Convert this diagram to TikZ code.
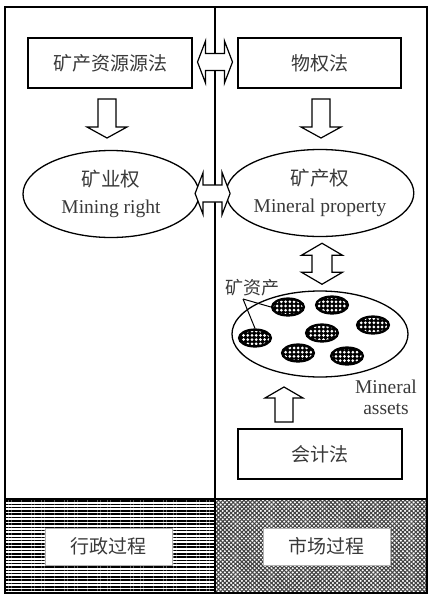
\documentclass[tikz,border=0pt]{standalone}
\usepackage{fontspec}
\setmainfont{Liberation Serif}
\newfontfamily\cjk{Noto Sans CJK SC}
\usetikzlibrary{shapes.geometric,calc,patterns.meta}
\definecolor{txt}{HTML}{3A3A3A}
\begin{document}
\begin{tikzpicture}[x=1pt,y=-1pt,
  frame/.style={line width=1.3pt},
  lawbox/.style={draw, line width=1.3pt, fill=white, minimum width=164pt, minimum height=50pt, inner sep=0pt, text=txt, font=\cjk\fontsize{19}{22}\selectfont},
  oval/.style={ellipse, draw, line width=1.3pt, fill=white, minimum width=176pt, minimum height=87pt, inner sep=0pt, text=txt, align=center, font=\fontsize{19.5}{27}\selectfont},
  mini/.style={ellipse, draw, line width=1.2pt, minimum width=33pt, minimum height=18pt, inner sep=0pt, fill=black},
  procbox/.style={draw=gray!60, line width=0.8pt, fill=white, minimum width=127pt, minimum height=37pt, inner sep=0pt, text=txt, font=\cjk\fontsize{19}{22}\selectfont},
  blockarrow/.style={draw, line width=1.2pt, fill=white, line join=miter},
  lbl/.style={text=txt, inner sep=0pt}
]
\useasboundingbox (0,0) rectangle (430,600);
% bottom bands
\fill[pattern={Lines[angle=0,distance=3.3pt,line width=1.5pt]}] (5,499) rectangle (215,593);
\fill[pattern={Lines[angle=45,distance=3pt,line width=1.1pt]}, pattern color=black!75] (215,499) rectangle (427,593);
\fill[pattern={Lines[angle=-45,distance=3pt,line width=1.1pt]}, pattern color=black!75] (215,499) rectangle (427,593);
\draw[frame] (5,499) -- (427,499);
% frame and divider
\draw[frame] (5,7) rectangle (427,593);
\draw[frame] (215,7) -- (215,593);

% law boxes
\node[lawbox] (kc) at (110,63) {矿产资源源法};
\node[lawbox, minimum width=163pt] (wq) at (319.5,63) {物权法};
% ellipses
\node[oval] (ky) at (111,194) {{\cjk 矿业权}\\Mining right};
\node[oval] (kq) at (320,193) {{\cjk 矿产权}\\Mineral property};
\node[oval, minimum height=86pt] (zc) at (320,334) {};
% small ellipses
\foreach \n/\p in {s1/{(288,307)}, s2/{(332,305)}, s3/{(373,325)}, s4/{(255,338)}, s5/{(322,333)}, s6/{(298,353)}, s7/{(347,356)}}{
  \node[mini] (\n) at \p {};
  \fill[pattern={Dots[distance=4.2pt,radius=1.5pt]}, pattern color=white] (\n.center) ellipse [x radius=14.5pt, y radius=7pt];
}
\node[lbl, font=\cjk\fontsize{18}{20}\selectfont] (zl) at (252,288) {矿资产};
\coordinate (zj) at (243,299);
\draw[line width=1pt] (zj) -- (s1.west);
\draw[line width=1pt] (zj) -- (s4.north);
\node[lbl, align=center, font=\fontsize{19.5}{21}\selectfont] (ma) at (386,397) {Mineral\\assets};
% accounting box
\node[lawbox] (kj) at (320,454) {会计法};
% process boxes
\node[procbox] (xz) at (108.5,546.5) {行政过程};
\node[procbox] (sc) at (326.5,546.5) {市场过程};

% horizontal double arrows
\coordinate (h1) at ($(kc.east)!0.5!(wq.west)+(0,-1)$);
\coordinate (h2) at ($(ky.east)!0.5!(kq.west)$);
\foreach \c in {h1,h2}{
  \draw[blockarrow, shift={(\c)}] (-17.5,0) -- (-9.5,-21) -- (-9.5,-8.5) -- (9.5,-8.5) -- (9.5,-21) -- (17.5,0) -- (9.5,21) -- (9.5,8.5) -- (-9.5,8.5) -- (-9.5,21) -- cycle;
}
% down arrows
\coordinate (d1) at (107,99);
\coordinate (d2) at (321,99);
\foreach \c in {d1,d2}{
  \draw[blockarrow, shift={(\c)}] (-9,0) -- (9,0) -- (9,28) -- (20,28) -- (0,39) -- (-20,28) -- (-9,28) -- cycle;
}
% vertical double arrow
\coordinate (v1) at ($(kq.south)!0.5!(zc.north)+(2,0)$);
\draw[blockarrow, shift={(v1)}] (0,-20.5) -- (20.5,-8.5) -- (10,-8.5) -- (10,8.5) -- (20.5,8.5) -- (0,20.5) -- (-20.5,8.5) -- (-10,8.5) -- (-10,-8.5) -- (-20.5,-8.5) -- cycle;
% up arrow
\coordinate (u1) at (284,422);
\draw[blockarrow, shift={(u1)}] (-9,0) -- (9,0) -- (9,-24) -- (19,-24) -- (0,-35) -- (-19,-24) -- (-9,-24) -- cycle;
\end{tikzpicture}
\end{document}
